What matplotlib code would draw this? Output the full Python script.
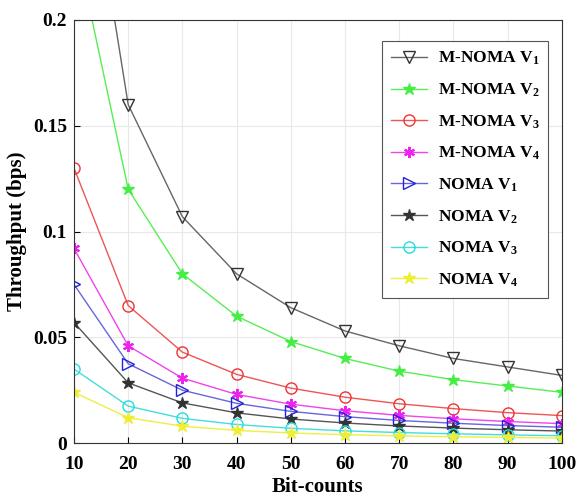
import matplotlib
matplotlib.use("Agg")
import matplotlib.pyplot as plt

plt.rcParams['font.family'] = 'Liberation Serif'
plt.rcParams['font.weight'] = 'bold'
plt.rcParams['mathtext.fontset'] = 'custom'
plt.rcParams['mathtext.rm'] = 'Liberation Serif:bold'
plt.rcParams['mathtext.it'] = 'Liberation Serif:bold'
plt.rcParams['mathtext.bf'] = 'Liberation Serif:bold'

bits = [10, 20, 30, 40, 50, 60, 70, 80, 90, 100]

mnoma_v1 = [0.32, 0.16, 0.107, 0.08, 0.064, 0.053, 0.046, 0.04, 0.036, 0.032]
mnoma_v2 = [0.24, 0.12, 0.08, 0.06, 0.048, 0.04, 0.034, 0.03, 0.027, 0.024]
mnoma_v3 = [0.13, 0.065, 0.043, 0.0325, 0.026, 0.0217, 0.0186, 0.0163, 0.0144, 0.013]
mnoma_v4 = [0.092, 0.046, 0.0307, 0.023, 0.0184, 0.0153, 0.0131, 0.0115, 0.0102, 0.0092]
noma_v1 = [0.075, 0.0375, 0.025, 0.0188, 0.015, 0.0125, 0.0107, 0.0094, 0.0083, 0.0075]
noma_v2 = [0.057, 0.0285, 0.019, 0.0143, 0.0114, 0.0095, 0.0081, 0.0071, 0.0063, 0.0057]
noma_v3 = [0.035, 0.0175, 0.0117, 0.0088, 0.007, 0.0058, 0.005, 0.0044, 0.0039, 0.0035]
noma_v4 = [0.024, 0.012, 0.008, 0.006, 0.0048, 0.004, 0.0034, 0.003, 0.0027, 0.0024]

fig = plt.figure(figsize=(5.78, 4.99), dpi=100)
ax = fig.add_axes([0.128, 0.112, 0.844, 0.848])

asterisk = (6, 2, 0)
ax.plot(bits, mnoma_v1, color='#666666', marker='v', mfc='none', mec='#333333', ms=8, lw=1, label='M-NOMA V$_1$')
ax.plot(bits, mnoma_v2, color='#55ee55', marker='*', mfc='#44ee44', mec='#44ee44', ms=9, lw=1, label='M-NOMA V$_2$')
ax.plot(bits, mnoma_v3, color='#ee5555', marker='o', mfc='none', mec='#ee3333', ms=8, lw=1, label='M-NOMA V$_3$')
ax.plot(bits, mnoma_v4, color='#ee44ee', marker=asterisk, mec='#ee22ee', ms=8, mew=1.5, lw=1, label='M-NOMA V$_4$')
ax.plot(bits, noma_v1, color='#6666dd', marker='>', mfc='none', mec='#2222dd', ms=8, lw=1, label='NOMA V$_1$')
ax.plot(bits, noma_v2, color='#555555', marker='*', mfc='#333333', mec='#333333', ms=9, lw=1, label='NOMA V$_2$')
ax.plot(bits, noma_v3, color='#44dddd', marker='o', mfc='none', mec='#22dddd', ms=8, lw=1, label='NOMA V$_3$')
ax.plot(bits, noma_v4, color='#eeee44', marker='*', mfc='#eeee33', mec='#eeee33', ms=9, lw=1, label='NOMA V$_4$')

ax.set_xlim(10, 100)
ax.set_ylim(0, 0.2)
ax.set_xticks(bits)
ax.set_yticks([0, 0.05, 0.1, 0.15, 0.2])
ax.set_yticklabels(['0', '0.05', '0.1', '0.15', '0.2'])
ax.tick_params(direction='in', labelsize=14, length=4, top=False, right=False)
ax.tick_params(axis='x', pad=9)
ax.tick_params(axis='y', pad=5)
ax.grid(True, color='#e8e8e8', lw=0.8)
for s in ax.spines.values():
    s.set_color('#333333')
    s.set_linewidth(0.8)

ax.set_xlabel('Bit-counts', fontsize=15, fontweight='bold', labelpad=3)
ax.set_ylabel('Throughput (bps)', fontsize=15, fontweight='bold', labelpad=4)

leg = ax.legend(loc='upper right', fontsize=12.5, fancybox=False, framealpha=1,
                edgecolor='#555555', handlelength=2.1, handletextpad=0.6,
                labelspacing=0.82, borderpad=0.5, bbox_to_anchor=(0.99, 0.97))
leg.get_frame().set_linewidth(0.8)

fig.savefig('out.png', dpi=100)
